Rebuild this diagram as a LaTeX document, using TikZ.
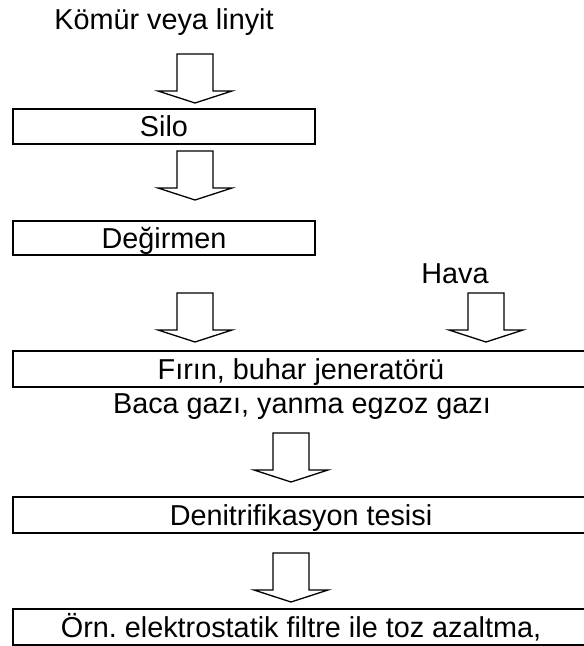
\documentclass[tikz,border=0pt]{standalone}
\usepackage{fontspec}
\setmainfont{Liberation Sans}
\frenchspacing
\begin{document}
\begin{tikzpicture}[x=1pt,y=-1pt,
  every node/.style={font=\fontsize{28.8}{34}\selectfont, inner sep=0pt, outer sep=0pt},
  stagebox/.style={draw=black, line width=2pt, rectangle, text height=20.6pt, text depth=0pt},
  smallbox/.style={stagebox, minimum width=302pt},
  widebox/.style={stagebox, minimum width=600pt},
  label/.style={anchor=base},
  arrowline/.style={draw=black, line width=1.3pt, line join=miter, fill=white},
  blkarrow/.pic={\path[arrowline] (-18,0) -- (18,0) -- (18,37) -- (37,37) -- (0,49) -- (-37,37) -- (-18,37) -- cycle;}
]
\useasboundingbox (0,0) rectangle (584,646);
\clip (0,0) rectangle (584,646);

% texts
\node[label] (komur) at (164,29) {Kömür veya linyit};
\node[label] (hava) at (455,283) {Hava};
\node[label] (baca) at (302,413) {Baca gazı, yanma egzoz gazı};

% boxes
\node[smallbox, minimum height=35pt] (silo) at (164,126.5) {Silo};
\node[smallbox, minimum height=34pt] (degirmen) at (164,238) {Değirmen};
\node[widebox, minimum height=36pt] (firin) at (313,369) {Fırın, buhar jeneratörü\hspace*{24pt}};
\node[widebox, minimum height=36pt] (denit) at (313,515) {Denitrifikasyon tesisi\hspace*{24pt}};
\node[widebox, minimum height=36pt] (orn) at (313,627) {Örn. elektrostatik filtre ile toz azaltma,\hspace*{24pt}};

% block arrows
\coordinate (a1) at (195,54);
\coordinate (a2) at (195,151);
\coordinate (a3) at (195,293);
\coordinate (a4) at (486,293);
\coordinate (a5) at (291,433);
\coordinate (a6) at (291,553);
\pic at (a1) {blkarrow};
\pic at (a2) {blkarrow};
\pic at (a3) {blkarrow};
\pic at (a4) {blkarrow};
\pic at (a5) {blkarrow};
\pic at (a6) {blkarrow};
\end{tikzpicture}
\end{document}
